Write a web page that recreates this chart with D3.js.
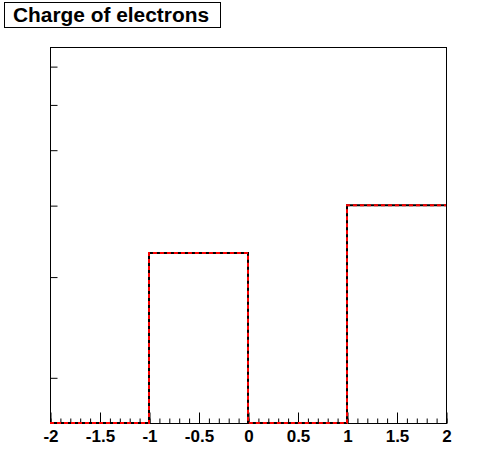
<!DOCTYPE html>
<html>
<head>
<meta charset="utf-8">
<script src="https://cdn.jsdelivr.net/npm/d3@7"></script>
<style>
  body { margin: 0; background: #fff; }
  svg { display: block; font-family: "Liberation Sans", Arial, sans-serif; }
</style>
</head>
<body>
<div id="chart"></div>
<script>
// histogram bins and contents (log y)
const binEdges = [-2, -1, 0, 1, 2];
const binCounts = [0, 3.3, 0, 4];
const xTickValues = [-2, -1.5, -1, -0.5, 0, 0.5, 1, 1.5, 2];
const xMinorValues = d3.range(-20, 21).map(function (i) { return i / 10; });
const yTickValues = [2, 3, 4, 5, 6, 7];
const yDomain = [1.664, 7.56];
const title = 'Charge of electrons';

const width = 496;
const height = 472;
const margin = { top: 47, right: 50, bottom: 49, left: 50 };

const svg = d3.select('#chart')
  .append('svg')
    .attr('width', width)
    .attr('height', height);

svg.append('rect')
    .attr('width', width)
    .attr('height', height)
    .attr('fill', '#fff');

const x = d3.scaleLinear()
    .domain([binEdges[0], binEdges[binEdges.length - 1]])
    .range([margin.left, width - margin.right]);

const y = d3.scaleLog()
    .domain(yDomain)
    .range([height - margin.bottom, margin.top]);

// frame
svg.append('rect')
    .attr('x', x.range()[0] + 0.5)
    .attr('y', y.range()[1] + 0.5)
    .attr('width', x.range()[1] - x.range()[0])
    .attr('height', y.range()[0] - y.range()[1])
    .attr('fill', 'none')
    .attr('stroke', '#000')
    .attr('stroke-width', 1);

// x minor ticks
svg.append('g')
    .attr('transform', `translate(0.5, ${y.range()[0] + 0.5})`)
    .call(d3.axisBottom(x).tickValues(xMinorValues).tickSize(-5).tickFormat(''))
    .call(function (g) { g.select('.domain').remove(); });

// x major ticks + labels
const xAxis = svg.append('g')
    .attr('transform', `translate(0.5, ${y.range()[0] + 0.5})`)
    .call(d3.axisBottom(x)
      .tickValues(xTickValues)
      .tickSize(-11)
      .tickPadding(6)
      .tickFormat(function (d) { return String(d); }));
xAxis.select('.domain').remove();
xAxis.selectAll('text')
    .attr('font-size', 17)
    .attr('font-weight', 'bold')
    .attr('font-family', '"Liberation Sans", Arial, sans-serif')
    .attr('fill', '#000');

// y ticks (no labels)
svg.append('g')
    .attr('transform', `translate(${x.range()[0] + 0.5}, 0.5)`)
    .call(d3.axisLeft(y).tickValues(yTickValues).tickSize(-7).tickFormat(''))
    .call(function (g) { g.select('.domain').remove(); });

// histogram step path
const yBottom = yDomain[0];
const pts = [[binEdges[0], yBottom]];
binCounts.forEach(function (c, i) {
  const v = Math.max(c, yBottom);
  pts.push([binEdges[i], v]);
  pts.push([binEdges[i + 1], v]);
});
const line = d3.line()
    .x(function (d) { return x(d[0]); })
    .y(function (d) { return y(d[1]); });

svg.append('path')
    .attr('d', line(pts))
    .attr('fill', 'none')
    .attr('stroke', '#000')
    .attr('stroke-width', 2);

svg.append('path')
    .attr('d', line(pts))
    .attr('fill', 'none')
    .attr('stroke', '#ff0000')
    .attr('stroke-width', 2)
    .attr('stroke-dasharray', '4,3');

// title box
svg.append('rect')
    .attr('x', 4.5)
    .attr('y', 2.5)
    .attr('width', 216)
    .attr('height', 25)
    .attr('fill', '#fff')
    .attr('stroke', '#000')
    .attr('stroke-width', 1);

svg.append('text')
    .attr('x', 13)
    .attr('y', 22)
    .attr('font-size', 20)
    .attr('font-weight', 'bold')
    .attr('textLength', 196)
    .attr('lengthAdjust', 'spacingAndGlyphs')
    .attr('fill', '#000')
    .text(title);
</script>
</body>
</html>
